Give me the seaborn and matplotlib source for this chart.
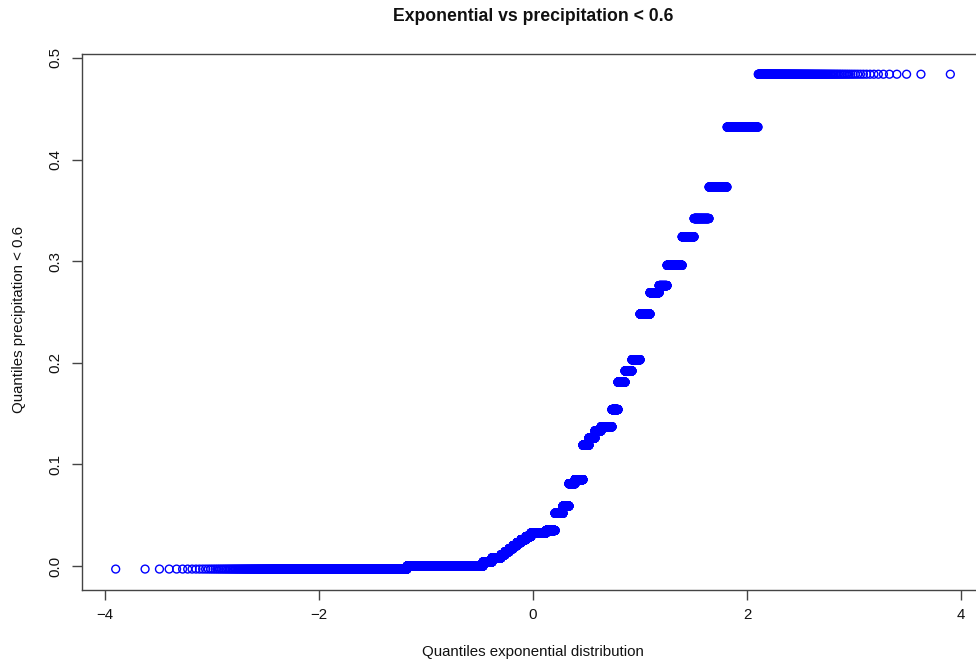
import numpy as np
import pandas as pd
import matplotlib
matplotlib.use("Agg")
import matplotlib.pyplot as plt
import seaborn as sns
from statistics import NormalDist

# ---- data: distinct sample values and how many observations take each ----
levels = [-0.003, 0.000, 0.004, 0.008, 0.011, 0.014, 0.017, 0.020, 0.023, 0.026,
          0.029, 0.0325, 0.035, 0.052, 0.059, 0.081, 0.085, 0.119, 0.126, 0.133,
          0.137, 0.154, 0.181, 0.192, 0.203, 0.248, 0.269, 0.276, 0.296, 0.324,
          0.342, 0.373, 0.432, 0.484]
counts = [1242, 2088, 319, 329, 148, 153, 150, 152, 156, 194,
          190, 580, 347, 298, 222, 220, 280, 206, 200, 197,
          334, 174, 194, 181, 196, 224, 185, 147, 244, 162,
          168, 157, 179, 184]

title = "Exponential vs precipitation < 0.6"
xlabel = "Quantiles exponential distribution"
ylabel = "Quantiles precipitation < 0.6"
xticks = [-4, -2, 0, 2, 4]
xticklabels = ["\u22124", "\u22122", "0", "2", "4"]
yticks = [0.0, 0.1, 0.2, 0.3, 0.4, 0.5]
yticklabels = ["0.0", "0.1", "0.2", "0.3", "0.4", "0.5"]

# ---- QQ construction: sorted sample vs theoretical quantiles ----
sample = np.sort(np.repeat(levels, counts))
n = len(sample)
nd = NormalDist()
theo = np.array([nd.inv_cdf((i - 0.5) / n) for i in range(1, n + 1)])
df = pd.DataFrame({"theoretical": theo, "sample": sample})

sns.set_style("white")
plt.rcParams["font.family"] = ["Liberation Sans", "DejaVu Sans"]

W, H = 976, 661
fig = plt.figure(figsize=(W / 100, H / 100), dpi=100)
left, right, top, bottom = 82, 982, 54, 590
ax = fig.add_axes([left / W, 1 - bottom / H, (right - left) / W, (bottom - top) / H])

sns.scatterplot(data=df, x="theoretical", y="sample", ax=ax, marker="o", s=32,
                facecolors="none", edgecolors="#0000ff", linewidth=1.0,
                legend=False)

ax.set_xlim(-4.215, 4.196)
ax.set_ylim(-0.0236, 0.5039)

fs = 10.8
ax.set_xticks(xticks)
ax.set_xticklabels(xticklabels, fontsize=fs)
ax.set_yticks(yticks)
ax.set_yticklabels(yticklabels, fontsize=fs, rotation=90, va="center")
ax.tick_params(axis="both", direction="out", length=7, width=1, color="#444444",
               labelcolor="#111111", pad=6)
ax.tick_params(axis="x", bottom=True)
ax.tick_params(axis="y", left=True, pad=7)

for sp in ax.spines.values():
    sp.set_color("#444444")
    sp.set_linewidth(1)
    sp.set_visible(True)

ax.set_xlabel(xlabel, fontsize=fs, color="#111111")
ax.set_ylabel(ylabel, fontsize=fs, color="#111111")
ax.xaxis.set_label_coords((533 - left) / (right - left), (bottom - 652) / (bottom - top))
ax.xaxis.label.set_va("center")
ax.yaxis.set_label_coords((19 - left) / (right - left), (bottom - 320) / (bottom - top))
ax.yaxis.label.set_va("center")

ax.text((533 - left) / (right - left), (bottom - 17) / (bottom - top), title,
        transform=ax.transAxes, ha="center", va="center", fontsize=12.7,
        fontweight="bold", color="#111111")

fig.savefig("out.png", dpi=100)
